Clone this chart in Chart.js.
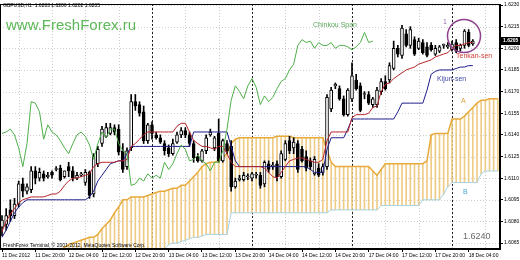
<!DOCTYPE html>
<html><head><meta charset="utf-8">
<script src="https://cdn.jsdelivr.net/npm/chart.js@4/dist/chart.umd.min.js"></script>
<style>html,body{margin:0;padding:0;background:#fff;overflow:hidden}canvas{display:block}</style>
</head><body>
<canvas id="c" width="520" height="260"></canvas>
<script>
const symbol = 'GBPUSD,H1';
const xTickBars = [0,8,16,24,32,40,48,56,64,72,80,88,96,104,112];
const xTickLabels = ['11 Dec 2012','11 Dec 20:00','12 Dec 04:00','12 Dec 12:00','12 Dec 20:00','13 Dec 04:00','13 Dec 12:00','13 Dec 20:00','14 Dec 04:00','14 Dec 12:00','14 Dec 20:00','17 Dec 04:00','17 Dec 12:00','17 Dec 20:00','18 Dec 04:00'];
const gridBars = [4,12,20,28,36,44,52,60,68,76,84,92,100,108,116];
const daySeparatorBars = [36,60,84,108];
const yTicks = [1.6065,1.6080,1.6095,1.6110,1.6125,1.6140,1.6155,1.6170,1.6185,1.6200,1.6215,1.6230];

const opens = [1.6076,1.6078,1.6088,1.6084,1.6092,1.6106,1.6101,1.6102,1.6115,1.6110,
1.6113,1.6111,1.6114,1.6116,1.6117,1.6111,1.6118,1.6115,1.6110,1.6112,
1.6107,1.6114,1.6099,1.6120,1.6134,1.6139,1.6141,1.6145,1.6144,1.6129,
1.6118,1.6131,1.6163,1.6161,1.6156,1.6136,1.6147,1.6140,1.6138,1.6134,
1.6131,1.6127,1.6135,1.6140,1.6143,1.6140,1.6134,1.6125,1.6122,1.6129,
1.6140,1.6131,1.6141,1.6122,1.6134,1.6132,1.6104,1.6109,1.6109,1.6111,
1.6110,1.6112,1.6112,1.6106,1.6120,1.6118,1.6120,1.6111,1.6123,1.6136,
1.6131,1.6134,1.6130,1.6125,1.6122,1.6113,1.6117,1.6114,1.6118,1.6158,
1.6174,1.6172,1.6165,1.6154,1.6165,1.6178,1.6174,1.6168,1.6168,1.6161,
1.6161,1.6170,1.6177,1.6178,1.6186,1.6200,1.6195,1.6210,1.6202,1.6206,
1.6200,1.6204,1.6201,1.6202,1.6196,1.6198,1.6202,1.6201,1.6199,1.6204,
1.6200,1.6202,1.6211,1.6203];
const highs = [1.6084,1.6089,1.6095,1.6096,1.6108,1.6110,1.6106,1.6118,1.6118,1.6117,
1.6115,1.6114,1.6115,1.6118,1.6119,1.6115,1.6121,1.6118,1.6114,1.6114,
1.6116,1.6115,1.6127,1.6132,1.6146,1.6148,1.6148,1.6147,1.6147,1.6134,
1.6131,1.6168,1.6168,1.6163,1.6160,1.6148,1.6149,1.6142,1.6140,1.6136,
1.6133,1.6137,1.6142,1.6145,1.6145,1.6142,1.6136,1.6127,1.6130,1.6140,
1.6144,1.6139,1.6151,1.6137,1.6136,1.6136,1.6110,1.6112,1.6114,1.6113,
1.6114,1.6114,1.6114,1.6122,1.6122,1.6121,1.6122,1.6129,1.6136,1.6139,
1.6138,1.6136,1.6132,1.6129,1.6124,1.6125,1.6120,1.6120,1.6168,1.6173,
1.6176,1.6174,1.6167,1.6172,1.6190,1.6182,1.6176,1.6170,1.6170,1.6166,
1.6173,1.6179,1.6181,1.6190,1.6205,1.6202,1.6216,1.6213,1.6215,1.6208,
1.6207,1.6206,1.6204,1.6204,1.6202,1.6202,1.6203,1.6204,1.6205,1.6206,
1.6203,1.6213,1.6213,1.6206];
const lows = [1.6070,1.6074,1.6080,1.6082,1.6090,1.6097,1.6099,1.6100,1.6106,1.6108,
1.6108,1.6110,1.6110,1.6115,1.6108,1.6110,1.6111,1.6108,1.6109,1.6111,
1.6105,1.6096,1.6097,1.6118,1.6132,1.6138,1.6140,1.6140,1.6126,1.6114,
1.6116,1.6129,1.6157,1.6153,1.6134,1.6134,1.6137,1.6137,1.6134,1.6126,
1.6125,1.6126,1.6134,1.6138,1.6138,1.6132,1.6121,1.6121,1.6121,1.6127,
1.6139,1.6129,1.6121,1.6121,1.6127,1.6101,1.6103,1.6108,1.6108,1.6109,
1.6108,1.6110,1.6103,1.6104,1.6114,1.6116,1.6108,1.6110,1.6122,1.6127,
1.6127,1.6114,1.6121,1.6115,1.6116,1.6112,1.6111,1.6112,1.6116,1.6156,
1.6172,1.6164,1.6153,1.6153,1.6163,1.6171,1.6156,1.6165,1.6161,1.6159,
1.6159,1.6168,1.6171,1.6176,1.6185,1.6194,1.6193,1.6201,1.6200,1.6195,
1.6199,1.6196,1.6194,1.6198,1.6195,1.6197,1.6200,1.6200,1.6198,1.6197,
1.6198,1.6200,1.6201,1.6202];
const closes = [1.6081,1.6084,1.6084,1.6092,1.6106,1.6101,1.6104,1.6115,1.6110,1.6114,
1.6110,1.6112,1.6112,1.6116,1.6109,1.6115,1.6115,1.6110,1.6112,1.6113,
1.6114,1.6098,1.6125,1.6130,1.6144,1.6145,1.6145,1.6142,1.6128,1.6116,
1.6129,1.6163,1.6160,1.6155,1.6136,1.6147,1.6141,1.6138,1.6135,1.6129,
1.6127,1.6134,1.6140,1.6143,1.6140,1.6134,1.6124,1.6122,1.6129,1.6138,
1.6142,1.6138,1.6122,1.6136,1.6129,1.6104,1.6108,1.6110,1.6112,1.6111,
1.6113,1.6112,1.6105,1.6121,1.6116,1.6119,1.6111,1.6127,1.6134,1.6129,
1.6135,1.6116,1.6122,1.6117,1.6118,1.6123,1.6112,1.6118,1.6166,1.6171,
1.6175,1.6165,1.6154,1.6171,1.6181,1.6172,1.6157,1.6168,1.6162,1.6165,
1.6171,1.6177,1.6172,1.6188,1.6200,1.6196,1.6214,1.6202,1.6213,1.6196,
1.6205,1.6197,1.6195,1.6199,1.6200,1.6201,1.6202,1.6202,1.6203,1.6198,
1.6202,1.6212,1.6202,1.6205];

const tenkan = [1.6073,1.6080,1.6085,1.6089,1.6093,1.6095,1.6096,1.6097,1.6097,1.6097,
1.6097,1.6098,1.6099,1.6099,1.6101,1.6105,1.6108,1.6110,1.6110,1.6111,
1.6112,1.6113,1.6118,1.6120,1.6121,1.6121,1.6121,1.6121,1.6122,1.6122,
1.6123,1.6132,1.6134,1.6137,1.6140,1.6142,1.6142,1.6142,1.6142,1.6142,
1.6142,1.6142,1.6146,1.6148,1.6148,1.6142,1.6136,1.6134,1.6132,1.6132,
1.6131,1.6130,1.6132,1.6132,1.6127,1.6121,1.6118,1.6118,1.6118,1.6118,
1.6118,1.6118,1.6118,1.6117,1.6114,1.6111,1.6110,1.6114,1.6118,1.6122,
1.6123,1.6124,1.6124,1.6123,1.6122,1.6121,1.6121,1.6123,1.6136,1.6142,
1.6142,1.6142,1.6142,1.6142,1.6152,1.6154,1.6154,1.6154,1.6155,1.6159,
1.6160,1.6170,1.6175,1.6176,1.6179,1.6181,1.6183,1.6185,1.6186,1.6187,
1.6189,1.6190,1.6191,1.6192,1.6194,1.6195,1.6196,1.6197,1.6200,1.6202,
1.6202,1.6203,1.6204,1.6204];
const kijun = [1.6069,1.6074,1.6080,1.6086,1.6090,1.6093,1.6095,1.6095,1.6095,1.6095,
1.6095,1.6095,1.6095,1.6095,1.6095,1.6095,1.6095,1.6095,1.6095,1.6095,
1.6095,1.6097,1.6101,1.6108,1.6112,1.6116,1.6120,1.6121,1.6122,1.6122,
1.6127,1.6132,1.6132,1.6132,1.6132,1.6132,1.6132,1.6132,1.6132,1.6132,
1.6132,1.6132,1.6132,1.6132,1.6132,1.6132,1.6142,1.6142,1.6142,1.6142,
1.6142,1.6142,1.6142,1.6142,1.6142,1.6132,1.6122,1.6118,1.6118,1.6118,
1.6118,1.6118,1.6118,1.6118,1.6118,1.6118,1.6118,1.6118,1.6118,1.6118,
1.6118,1.6118,1.6118,1.6118,1.6116,1.6114,1.6114,1.6114,1.6130,1.6138,
1.6138,1.6138,1.6138,1.6144,1.6151,1.6151,1.6151,1.6151,1.6151,1.6151,
1.6151,1.6151,1.6151,1.6151,1.6151,1.6156,1.6162,1.6162,1.6162,1.6162,
1.6162,1.6162,1.6171,1.6182,1.6184,1.6185,1.6185,1.6185,1.6185,1.6186,
1.6187,1.6187,1.6188,1.6188];
const chikou = [1.6141,1.6142,1.6144,1.6140,1.6131,1.6118,1.6134,1.6163,1.6162,1.6156,
1.6137,1.6147,1.6142,1.6140,1.6136,1.6131,1.6127,1.6134,1.6140,1.6142,
1.6139,1.6133,1.6123,1.6134,1.6142,1.6138,1.6144,1.6144,1.6134,1.6129,
1.6127,1.6105,1.6106,1.6110,1.6108,1.6113,1.6110,1.6112,1.6110,1.6121,
1.6116,1.6120,1.6127,1.6133,1.6130,1.6122,1.6123,1.6126,1.6122,1.6120,
1.6115,1.6121,1.6121,1.6129,1.6144,1.6164,1.6174,1.6170,1.6165,1.6174,
1.6179,1.6173,1.6161,1.6167,1.6163,1.6166,1.6172,1.6177,1.6179,1.6185,
1.6189,1.6202,1.6206,1.6204,1.6205,1.6200,1.6204,1.6202,1.6202,1.6204,
1.6200,1.6202,1.6202,1.6201,1.6199,1.6201,1.6204,1.6211,1.6204,1.6205];
const senkouA = [null,null,null,null,null,null,null,null,null,null,
null,null,null,null,1.6060,1.6062,1.6064,1.6065,1.6066,1.6067,
1.6068,1.6069,1.6069,1.6071,1.6075,1.6078,1.6081,1.6086,1.6090,1.6095,
1.6095,1.6097,1.6097,1.6097,1.6097,1.6098,1.6099,1.6100,1.6101,1.6101,
1.6102,1.6103,1.6103,1.6105,1.6105,1.6108,1.6111,1.6114,1.6118,1.6120,
1.6121,1.6121,1.6122,1.6124,1.6127,1.6134,1.6137,1.6138,1.6138,1.6138,
1.6138,1.6138,1.6138,1.6138,1.6138,1.6138,1.6139,1.6139,1.6139,1.6139,
1.6138,1.6138,1.6138,1.6138,1.6138,1.6138,1.6138,1.6138,1.6129,1.6121,
1.6118,1.6118,1.6118,1.6118,1.6118,1.6118,1.6118,1.6118,1.6118,1.6115,
1.6112,1.6116,1.6120,1.6120,1.6120,1.6120,1.6120,1.6120,1.6120,1.6120,
1.6120,1.6120,1.6122,1.6140,1.6141,1.6141,1.6141,1.6141,1.6151,1.6151,
1.6151,1.6153,1.6156,1.6159,1.6162,1.6164,1.6164,1.6165,1.6165,1.6165];
const senkouB = [null,null,null,null,null,null,null,null,null,null,
null,null,null,null,1.6054,1.6054,1.6054,1.6054,1.6054,1.6054,
1.6054,1.6054,1.6054,1.6054,1.6054,1.6054,1.6054,1.6054,1.6054,1.6054,
1.6054,1.6057,1.6057,1.6057,1.6057,1.6057,1.6057,1.6058,1.6060,1.6061,
1.6064,1.6065,1.6065,1.6066,1.6067,1.6068,1.6069,1.6069,1.6070,1.6071,
1.6071,1.6071,1.6071,1.6071,1.6071,1.6086,1.6086,1.6086,1.6086,1.6086,
1.6086,1.6086,1.6086,1.6086,1.6086,1.6086,1.6086,1.6086,1.6086,1.6086,
1.6086,1.6086,1.6086,1.6086,1.6086,1.6086,1.6086,1.6086,1.6086,1.6088,
1.6088,1.6088,1.6088,1.6088,1.6088,1.6088,1.6088,1.6088,1.6088,1.6088,
1.6088,1.6091,1.6091,1.6091,1.6091,1.6091,1.6091,1.6091,1.6091,1.6091,
1.6091,1.6095,1.6095,1.6095,1.6095,1.6095,1.6099,1.6104,1.6107,1.6107,
1.6107,1.6107,1.6107,1.6107,1.6107,1.6113,1.6115,1.6115,1.6115,1.6115];
const annotationValue = '1.6240';

Chart.defaults.font.family = '"Liberation Sans", Arial, sans-serif';
const pts = arr => arr.map((v, i) => v == null ? null : { x: i, y: v }).filter(p => p);
const idx = opens.map((_, i) => i);
const wickData = idx.map(i => ({ x: i, y: [lows[i], highs[i]] }));
const bodyData = idx.map(i => ({ x: i, y: [opens[i], closes[i]] }));
const bodyFill = idx.map(i => closes[i] >= opens[i] ? '#ffffff' : '#000000');
const kumoData = senkouA.map((a, i) => (a == null || senkouB[i] == null) ? null : { x: i, y: [senkouB[i], a] }).filter(p => p);

const overlay = {
  id: 'overlay',
  beforeDatasetsDraw(chart) {
    const { ctx, chartArea: a, scales: { x, y } } = chart;
    ctx.save();
    ctx.lineWidth = 1;
    const ln = (x1, y1, x2, y2) => { ctx.beginPath(); ctx.moveTo(x1, y1); ctx.lineTo(x2, y2); ctx.stroke(); };
    ctx.strokeStyle = '#cdcdcd'; ctx.setLineDash([1, 2]);
    yTicks.forEach(v => { const py = Math.round(y.getPixelForValue(v)) + 0.5; ln(a.left, py, a.right, py); });
    gridBars.forEach(b => { const px = Math.round(x.getPixelForValue(b)) + 0.5; ln(px, a.top, px, a.bottom); });
    ctx.strokeStyle = '#222'; ctx.setLineDash([2, 2]);
    daySeparatorBars.forEach(b => { const px = Math.round(x.getPixelForValue(b)) + 0.5; ln(px, a.top, px, a.bottom); });
    ctx.restore();
  },
  afterDraw(chart) {
    const { ctx, chartArea: a, scales: { y } } = chart;
    const n = closes.length - 1;
    ctx.save();
    ctx.strokeStyle = '#000'; ctx.lineWidth = 1; ctx.setLineDash([]);
    ctx.strokeRect(a.left + 0.5, a.top + 0.5, a.right - a.left - 1, a.bottom - a.top - 1);
    ctx.textBaseline = 'middle'; ctx.textAlign = 'left';
    ctx.fillStyle = '#000'; ctx.font = '5px "Liberation Sans"';
    ctx.fillText(symbol + '  ' + [opens[n], highs[n], lows[n], closes[n]].map(v => v.toFixed(4)).join(' '), 3, 6);
    ctx.fillText('FreshForex Terminal, \u00a9 2001-2012, MetaQuotes Software Corp.', 3, 245.5);
    ctx.fillStyle = '#5cb857'; ctx.font = '15px "Liberation Sans"';
    ctx.textBaseline = 'alphabetic';
    ctx.fillText('www.FreshForex.ru', 6, 30);
    ctx.textBaseline = 'middle';
    ctx.font = '7px "Liberation Sans"';
    ctx.fillStyle = '#5aa85a'; ctx.fillText('Chinkou Span', 313, 25);
    ctx.fillStyle = '#a070b0'; ctx.fillText('1', 443, 22);
    ctx.fillStyle = '#d0403a'; ctx.fillText('Tenkan-sen', 456, 56);
    ctx.fillStyle = '#4048a0'; ctx.fillText('Kijun-sen', 437, 79);
    ctx.fillStyle = '#e0a040'; ctx.fillText('A', 461, 101);
    ctx.fillStyle = '#4aa8d0'; ctx.fillText('B', 463, 192);
    ctx.fillStyle = '#6a6a6a'; ctx.font = '9px "Liberation Sans"';
    ctx.fillText(annotationValue, 463, 237);
    ctx.strokeStyle = '#8e3f8e'; ctx.lineWidth = 1.5;
    ctx.beginPath(); ctx.arc(464, 36, 16.5, 0, Math.PI * 2); ctx.stroke();
    const py = Math.round(y.getPixelForValue(closes[n]));
    ctx.fillStyle = '#000'; ctx.fillRect(501, py - 4, 19, 8);
    ctx.fillStyle = '#fff'; ctx.font = 'bold 5px "Liberation Sans"';
    ctx.fillText(closes[n].toFixed(4), 503, py);
    ctx.restore();
  }
};

new Chart(document.getElementById('c'), {
  type: 'bar',
  data: {
    datasets: [
      { type: 'bar', label: 'Kumo', data: kumoData, backgroundColor: '#efcc85', barThickness: 1, grouped: false, order: 10 },
      { type: 'line', label: 'Senkou Span B', data: pts(senkouB), borderColor: '#a6d3e6', borderWidth: 1, pointRadius: 0, order: 9 },
      { type: 'line', label: 'Senkou Span A', data: pts(senkouA), borderColor: '#e8aa3c', borderWidth: 1.5, pointRadius: 0, order: 8 },
      { type: 'bar', label: 'Wick', data: wickData, backgroundColor: '#000', barThickness: 1, grouped: false, order: 6 },
      { type: 'bar', label: 'Body', data: bodyData, backgroundColor: bodyFill, borderColor: '#000', borderWidth: 1, borderSkipped: false, barThickness: 3, minBarLength: 1, grouped: false, order: 5 },
      { type: 'line', label: 'Kijun-sen', data: pts(kijun), borderColor: '#1c1c8a', borderWidth: 1, pointRadius: 0, order: 3 },
      { type: 'line', label: 'Tenkan-sen', data: pts(tenkan), borderColor: '#b5242a', borderWidth: 1, pointRadius: 0, order: 2 },
      { type: 'line', label: 'Chinkou Span', data: pts(chikou), borderColor: '#4fae4a', borderWidth: 1, pointRadius: 0, order: 1 }
    ]
  },
  options: {
    responsive: false, animation: false, devicePixelRatio: 1, events: [],
    layout: { padding: 0 },
    plugins: { legend: { display: false }, tooltip: { enabled: false } },
    scales: {
      x: {
        type: 'linear', min: -0.48, max: 119.52, offset: false,
        grid: { offset: false, drawOnChartArea: false, drawTicks: true, tickLength: 3, color: '#000' },
        border: { display: true, color: '#000' },
        ticks: { autoSkip: false, maxRotation: 0, minRotation: 0, align: 'start', padding: 1, color: '#000', font: { size: 5 }, callback: (v, i) => xTickLabels[i] },
        afterBuildTicks: s => { s.ticks = xTickBars.map(v => ({ value: v })); },
        afterFit: s => { s.height = 11; }
      },
      y: {
        type: 'linear', position: 'right', min: 1.60609, max: 1.62307,
        grid: { drawOnChartArea: false, drawTicks: true, tickLength: 3, color: '#000' },
        border: { display: true, color: '#000' },
        ticks: { padding: 1, color: '#000', font: { size: 5 }, callback: v => Number(v).toFixed(4) },
        afterBuildTicks: s => { s.ticks = yTicks.map(v => ({ value: v })); },
        afterFit: s => { s.width = 20; }
      }
    }
  },
  plugins: [overlay]
});
</script>
</body></html>
